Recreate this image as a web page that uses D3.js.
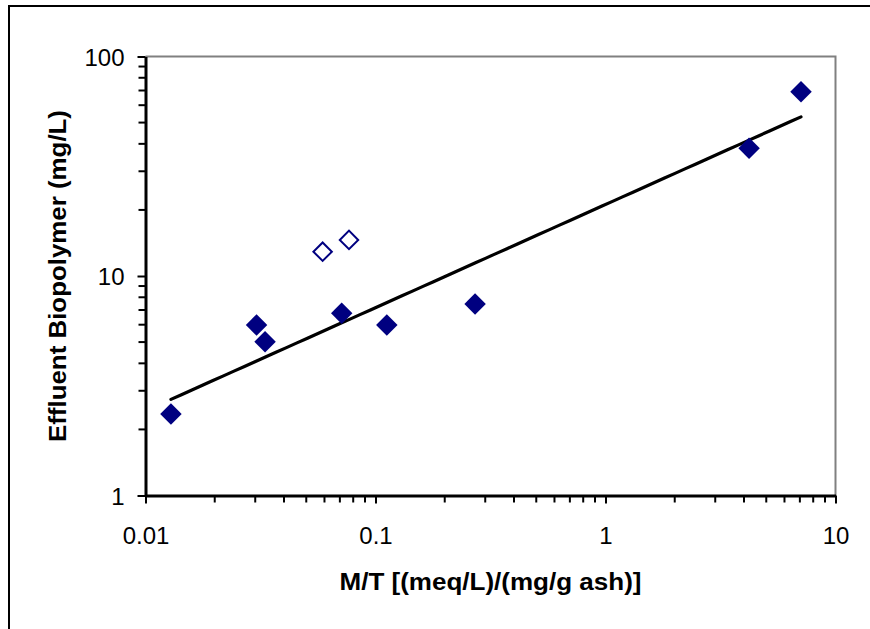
<!DOCTYPE html>
<html>
<head>
<meta charset="utf-8">
<script src="https://cdn.jsdelivr.net/npm/d3@7"></script>
<style>
html,body{margin:0;padding:0;background:#fff;overflow:hidden;}
svg{display:block;font-family:"Liberation Sans",Arial,sans-serif;}
</style>
</head>
<body>
<svg id="chart" width="870" height="629"></svg>
<script>
// Data
const filledX = [0.0129, 0.0304, 0.0331, 0.0713, 0.112, 0.271, 4.21, 7.08];
const filledY = [2.35, 5.98, 5.02, 6.76, 5.98, 7.46, 38.2, 69.1];
const openX = [0.0589, 0.0767];
const openY = [12.9, 14.6];
const xTickValues = [0.01, 0.1, 1, 10];
const xTickLabels = ["0.01", "0.1", "1", "10"];
const yTickValues = [1, 10, 100];
const yTickLabels = ["1", "10", "100"];
const xTitle = "M/T [(meq/L)/(mg/g ash)]";
const yTitle = "Effluent Biopolymer (mg/L)";

const svg = d3.select("#chart");
const pLeft = 145.5, pRight = 835.5, pTop = 56.5, pBottom = 495.5;

const x = d3.scaleLog().domain([0.01, 10]).range([pLeft, pRight]);
const y = d3.scaleLog().domain([1, 100]).range([pBottom, pTop]);

// Outer frame (extends beyond the page on right/bottom)
svg.append("rect").attr("x", 9).attr("y", 6).attr("width", 900).attr("height", 700)
  .attr("fill", "none").attr("stroke", "#000").attr("stroke-width", 2);

// Plot border top/right (gray)
svg.append("path")
  .attr("d", `M${pLeft},${pTop}H${pRight}V${pBottom}`)
  .attr("fill", "none").attr("stroke", "#808080").attr("stroke-width", 2);

// minor tick values
function minorTicks(domain) {
  const out = [];
  for (let e = Math.round(Math.log10(domain[0])); e < Math.round(Math.log10(domain[1])); e++) {
    for (let k = 2; k <= 9; k++) out.push(k * Math.pow(10, e));
  }
  return out;
}

// Minor ticks drawn explicitly
svg.append("g").selectAll("line").data(minorTicks(x.domain())).join("line")
  .attr("x1", d => x(d)).attr("x2", d => x(d))
  .attr("y1", pBottom).attr("y2", pBottom + 7)
  .attr("stroke", "#000").attr("stroke-width", 2);
svg.append("g").selectAll("line").data(minorTicks(y.domain())).join("line")
  .attr("y1", d => y(d)).attr("y2", d => y(d))
  .attr("x1", pLeft).attr("x2", pLeft - 7)
  .attr("stroke", "#000").attr("stroke-width", 2);

// X axis
const xMajor = svg.append("g").attr("transform", `translate(0,${pBottom})`)
  .call(d3.axisBottom(x).tickValues(xTickValues).tickSize(8).tickSizeOuter(0)
    .tickFormat((d, i) => xTickLabels[i]));
xMajor.select(".domain").attr("stroke-width", 3).attr("stroke", "#000");
xMajor.selectAll("text").attr("font-size", 24).attr("fill", "#000")
  .attr("y", 0).attr("dy", 0).attr("transform", "translate(0,48)");

// Y axis
const yMajor = svg.append("g").attr("transform", `translate(${pLeft},0)`)
  .call(d3.axisLeft(y).tickValues(yTickValues).tickSize(8).tickSizeOuter(0)
    .tickFormat((d, i) => yTickLabels[i]));
yMajor.select(".domain").attr("stroke-width", 3).attr("stroke", "#000");
yMajor.selectAll("text").attr("font-size", 24).attr("fill", "#000")
  .attr("x", -21).attr("dy", "0.36em");
svg.selectAll("g.tick line").attr("stroke", "#000").attr("stroke-width", 2);

// Power-law trend line fitted to the filled series (least squares in log-log space)
const lx = filledX.map(Math.log10), ly = filledY.map(Math.log10);
const mx = d3.mean(lx), my = d3.mean(ly);
const slope = d3.sum(lx, (v, i) => (v - mx) * (ly[i] - my)) / d3.sum(lx, v => (v - mx) ** 2);
const intercept = my - slope * mx;
const [xmin, xmax] = d3.extent(filledX);
const trend = d3.range(0, 61).map(i => {
  const lv = Math.log10(xmin) + (Math.log10(xmax) - Math.log10(xmin)) * i / 60;
  return [Math.pow(10, lv), Math.pow(10, intercept + slope * lv)];
});
svg.append("path").datum(trend)
  .attr("d", d3.line().x(d => x(d[0])).y(d => y(d[1])))
  .attr("fill", "none").attr("stroke", "#000").attr("stroke-width", 3.2).attr("stroke-linecap", "round");

// Markers
const sq = d3.symbol().type(d3.symbolSquare).size(230);
svg.append("g").selectAll("path").data(filledX.map((v, i) => [v, filledY[i]])).join("path")
  .attr("d", sq)
  .attr("transform", d => `translate(${x(d[0])},${y(d[1])}) rotate(45)`)
  .attr("fill", "#000080");
svg.append("g").selectAll("path").data(openX.map((v, i) => [v, openY[i]])).join("path")
  .attr("d", d3.symbol().type(d3.symbolSquare).size(170))
  .attr("transform", d => `translate(${x(d[0])},${y(d[1])}) rotate(45)`)
  .attr("fill", "#fff").attr("stroke", "#000080").attr("stroke-width", 2);

// Axis titles
svg.append("text").attr("x", 490.5).attr("y", 589.5).attr("text-anchor", "middle")
  .attr("font-size", 23).attr("font-weight", "bold").attr("fill", "#000")
  .attr("textLength", 302).attr("lengthAdjust", "spacingAndGlyphs").text(xTitle);
svg.append("text").attr("transform", `translate(66,276) rotate(-90)`).attr("text-anchor", "middle")
  .attr("font-size", 23).attr("font-weight", "bold").attr("fill", "#000")
  .attr("textLength", 332).attr("lengthAdjust", "spacingAndGlyphs").text(yTitle);
</script>
</body>
</html>
